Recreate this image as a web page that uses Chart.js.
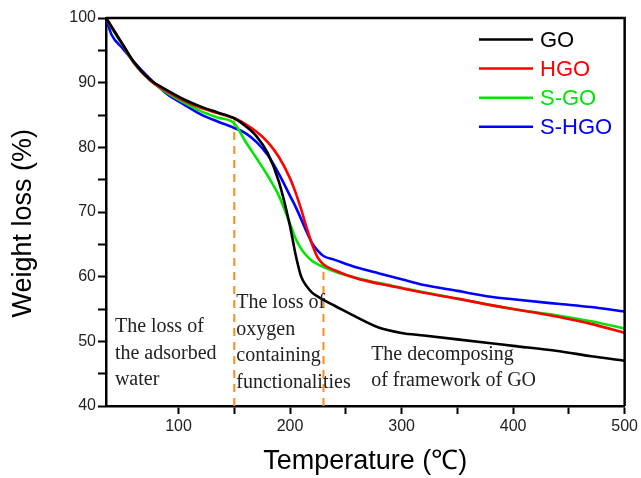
<!DOCTYPE html>
<html><head><meta charset="utf-8">
<script src="https://cdn.jsdelivr.net/npm/chart.js@4/dist/chart.umd.min.js"></script>
<style>html,body{margin:0;padding:0;background:#fff;}#wrap{width:641px;height:478px;}</style>
</head><body><div id="wrap"><canvas id="c" width="641" height="478"></canvas></div>
<script>
// ---- data ----
const temperatures = [35,40,50,60,75,90,105,120,135,150,160,170,180,190,200,205,210,215,220,225,230,240,260,280,300,320,350,380,400,440,470,500];
const seriesNames = ['GO','HGO','S-GO','S-HGO'];
const goValues   = [100,98.6,95.9,93.2,90.4,88.8,87.4,86.3,85.4,84.5,83.3,81.7,79.1,74.7,67.8,63.4,60.0,58.5,57.5,56.9,56.4,55.5,53.7,52.1,51.3,50.9,50.3,49.7,49.3,48.5,47.7,47.0];
const hgoValues  = [100,98.7,95.9,93.1,90.3,88.6,87.2,86.1,85.3,84.5,83.6,82.4,80.8,78.5,75.2,73.0,70.4,67.5,64.9,62.9,61.9,61.0,59.7,58.9,58.2,57.5,56.6,55.6,55.0,53.8,52.7,51.3];
const sgoValues  = [100,98.5,95.8,93.0,90.3,88.4,86.9,85.6,84.6,83.7,80.9,78.3,75.6,72.5,68.2,65.9,64.3,63.2,62.4,61.9,61.5,60.8,59.8,59.0,58.3,57.6,56.6,55.6,55.0,54.0,53.1,52.0];
const shgoValues = [100,97.4,95.3,93.2,90.5,88.2,86.6,85.1,84.0,83.0,82.2,80.8,78.8,75.9,72.5,70.8,68.9,66.9,65.1,64.0,63.2,62.6,61.4,60.5,59.6,58.7,57.8,56.9,56.5,55.8,55.3,54.6];
const xTickLabels = [100,200,300,400,500];
const yTickLabels = [40,50,60,70,80,90,100];
const regionBounds = [150,230];
const regionBoundTops = [84.2,61.5];
const regionNotes = [
  ['The loss of','the adsorbed','water'],
  ['The loss of','oxygen','containing','functionalities'],
  ['The decomposing','of framework of GO']
];

// ---- styling ----
const seriesColors = ['#000000','#ff0000','#00e600','#0000ff'];
const seriesValues = [goValues,hgoValues,sgoValues,shgoValues];
const noteAnchors = [{x:43,y:52.3},{x:151.8,y:56.0},{x:272.7,y:48.0}];
const SANS = '"Liberation Sans", Arial, sans-serif';
const SERIF = '"Liberation Serif", "Times New Roman", serif';

const datasets = seriesNames.map((name,i)=>({
  label:name,
  data: temperatures.map((t,j)=>({x:t,y:seriesValues[i][j]})),
  borderColor:seriesColors[i], backgroundColor:seriesColors[i],
  borderWidth:2.6, pointRadius:0, fill:false, cubicInterpolationMode:'monotone', order:1
}));
regionBounds.forEach((b,i)=>{
  datasets.push({
    label:'bound'+i,
    data:[{x:b,y:40},{x:b,y:regionBoundTops[i]}],
    borderColor:'#ff8c1a', borderWidth:2, borderDash:[8,6], pointRadius:0, fill:false, order:2
  });
});

const decorPlugin = {
  id:'decor',
  afterDatasetsDraw(chart){
    const {ctx, chartArea:a, scales:{x,y}} = chart;
    ctx.save();
    ctx.strokeStyle='#000'; ctx.lineWidth=2.5;
    ctx.beginPath();
    ctx.moveTo(a.left, a.top); ctx.lineTo(a.right, a.top); ctx.lineTo(a.right, a.bottom);
    ctx.stroke();
    ctx.font = '22px '+SANS; ctx.textBaseline='middle'; ctx.textAlign='left';
    seriesNames.forEach((n,i)=>{
      const yy = a.top + 21.5 + i*29.1;
      ctx.strokeStyle=seriesColors[i]; ctx.lineWidth=2.5;
      ctx.beginPath(); ctx.moveTo(a.left+373, yy); ctx.lineTo(a.left+427, yy); ctx.stroke();
      ctx.fillStyle=seriesColors[i];
      ctx.fillText(n, a.left+434, yy+1);
    });
    ctx.font = '20px '+SERIF; ctx.fillStyle='#222';
    regionNotes.forEach((lines,i)=>{
      const px = x.getPixelForValue(noteAnchors[i].x);
      const py = y.getPixelForValue(noteAnchors[i].y);
      lines.forEach((t,k)=>ctx.fillText(t, px, py + k*26.8));
    });
    ctx.restore();
  }
};

new Chart(document.getElementById('c'), {
  type:'line',
  data:{datasets},
  plugins:[decorPlugin],
  options:{
    responsive:false, animation:false, devicePixelRatio:1,
    layout:{padding:{left:0,right:13,top:18,bottom:0}},
    plugins:{legend:{display:false}, tooltip:{enabled:false}},
    scales:{
      x:{
        type:'linear', min:35, max:500,
        afterBuildTicks(s){ s.ticks = s.ticks.filter(t=>t.value%50===0); },
        afterFit(s){ s.height = 72; },
        ticks:{stepSize:50, autoSkip:false, maxRotation:0, padding:3, color:'#222',
          font:{family:SANS,size:16},
          callback:v=> xTickLabels.includes(v) ? String(v) : ''},
        grid:{display:true, drawOnChartArea:false, drawTicks:true, tickLength:8, tickWidth:2, tickColor:'#000'},
        border:{display:true, color:'#000', width:2.5},
        title:{display:true, text:'Temperature (℃)', color:'#000', font:{family:SANS,size:27}, padding:{top:0,bottom:0}}
      },
      y:{
        type:'linear', min:40, max:100,
        afterFit(s){ s.width = 106; },
        ticks:{stepSize:5, autoSkip:false, padding:2, color:'#222',
          font:{family:SANS,size:16},
          callback:v=> yTickLabels.includes(v) ? String(v) : ''},
        grid:{display:true, drawOnChartArea:false, drawTicks:true, tickLength:8, tickWidth:2, tickColor:'#000'},
        border:{display:true, color:'#000', width:2.5},
        title:{display:true, text:'Weight loss (%)   ', color:'#000', font:{family:SANS,size:27}, padding:{top:7,bottom:0}}
      }
    }
  }
});
</script></body></html>
